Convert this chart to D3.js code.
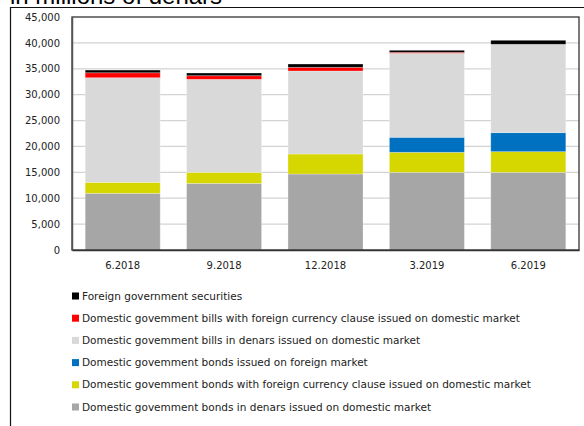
<!DOCTYPE html>
<html>
<head>
<meta charset="utf-8">
<script src="https://cdn.jsdelivr.net/npm/d3@7"></script>
<style>
  html, body { margin: 0; padding: 0; background: #fff; }
  svg { display: block; }
</style>
</head>
<body>
<svg id="chart" width="584" height="426"></svg>
<script>
// Quarter-end dates
const periods = ["6.2018", "9.2018", "12.2018", "3.2019", "6.2019"];

// Stock by instrument, in millions of denars (bottom of the stack first)
const bondsDenars        = [10950, 12870, 14680, 15000, 15000];
const bondsFxClause      = [2120, 2130, 3860, 3870, 3990];
const bondsForeignMarket = [0, 0, 0, 2900, 3670];
const billsDenars        = [20200, 17960, 16030, 16220, 17070];
const billsFxClause      = [960, 700, 710, 190, 0];
const foreignSecurities  = [520, 520, 640, 390, 770];

const seriesNames = [
  "Domestic govemment bonds in denars issued on domestic market",
  "Domestic govemment bonds with foreign currency clause issued on domestic market",
  "Domestic govemment bonds issued on foreign market",
  "Domestic govemment bills in denars issued on domestic market",
  "Domestic govemment bills with foreign currency clause issued on domestic market",
  "Foreign government securities"
];
const seriesColors = ["#a6a6a6", "#d6d600", "#0070c0", "#d9d9d9", "#ff0000", "#000000"];

const yTicks = [0, 5000, 10000, 15000, 20000, 25000, 30000, 35000, 40000, 45000];

const seriesValues = [bondsDenars, bondsFxClause, bondsForeignMarket, billsDenars, billsFxClause, foreignSecurities];
const rows = periods.map((p, i) => {
  const r = { period: p };
  seriesNames.forEach((n, k) => { r[n] = seriesValues[k][i]; });
  return r;
});

const svg = d3.select("#chart");
const plot = { left: 72, right: 579, top: 17, bottom: 250 };

const x = d3.scaleBand().domain(periods).range([plot.left, plot.right]).paddingInner(0.26).paddingOuter(0.13);
const y = d3.scaleLinear().domain([0, 45000]).range([plot.bottom, plot.top]);

// Outer chart border (top and left edges visible)
svg.append("line").attr("x1", 10).attr("x2", 584).attr("y1", 7.5).attr("y2", 7.5)
  .attr("stroke", "#111").attr("stroke-width", 1.2);
svg.append("line").attr("x1", 10.5).attr("x2", 10.5).attr("y1", 7).attr("y2", 426)
  .attr("stroke", "#111").attr("stroke-width", 1.2);

// Title
svg.append("text").attr("x", 10).attr("y", 4)
  .attr("font-family", "Liberation Sans, Arial, sans-serif").attr("font-size", 24)
  .attr("fill", "#000").text("in millions of denars");

// Gridlines
svg.append("g").selectAll("line").data(yTicks.filter(t => t > 0 && t < 45000)).join("line")
  .attr("x1", plot.left).attr("x2", plot.right)
  .attr("y1", d => y(d)).attr("y2", d => y(d))
  .attr("stroke", "#d3d3d3").attr("stroke-width", 1.2);

// Stacked bars
const stack = d3.stack().keys(seriesNames)(rows);
svg.append("g").selectAll("g").data(stack).join("g")
  .attr("fill", (d, i) => seriesColors[i])
  .selectAll("rect").data(d => d).join("rect")
  .attr("x", d => x(d.data.period))
  .attr("width", x.bandwidth())
  .attr("y", d => y(d[1]))
  .attr("height", d => Math.max(0, y(d[0]) - y(d[1])))
  .attr("stroke", "rgba(255,255,255,0.35)").attr("stroke-width", 0.8);

// Plot frame
svg.append("rect").attr("x", plot.left).attr("y", plot.top)
  .attr("width", plot.right - plot.left).attr("height", plot.bottom - plot.top)
  .attr("fill", "none").attr("stroke", "#333").attr("stroke-width", 1.3);

// Y axis
const yAxis = svg.append("g").attr("transform", `translate(${plot.left},0)`)
  .call(d3.axisLeft(y).tickValues(yTicks).tickFormat(d3.format(",")).tickSize(0).tickPadding(12));
yAxis.select(".domain").attr("stroke", "#555").attr("stroke-width", 1.5);
yAxis.selectAll("text").attr("font-family", "DejaVu Sans, Verdana, sans-serif")
  .attr("font-size", 10).attr("fill", "#222");

// X axis
const xAxis = svg.append("g").attr("transform", `translate(0,${plot.bottom})`)
  .call(d3.axisBottom(x).tickSize(0).tickPadding(12));
xAxis.select(".domain").attr("stroke", "#333").attr("stroke-width", 1.3);
xAxis.selectAll("text").attr("font-family", "DejaVu Sans, Verdana, sans-serif")
  .attr("font-size", 10).attr("fill", "#222");

// Legend (top entry is the top of the stack)
const legendItems = seriesNames.map((n, i) => ({ name: n, color: seriesColors[i] })).reverse();
const legend = svg.append("g").selectAll("g").data(legendItems).join("g")
  .attr("transform", (d, i) => `translate(72,${296 + i * 22.2})`);
legend.append("rect").attr("x", 0).attr("y", -3.5).attr("width", 7).attr("height", 7)
  .attr("fill", d => d.color);
legend.append("text").attr("x", 10).attr("y", 0).attr("dy", "0.35em")
  .attr("font-family", "DejaVu Sans, Verdana, sans-serif").attr("font-size", 10.5)
  .attr("fill", "#222").text(d => d.name);
</script>
</body>
</html>
